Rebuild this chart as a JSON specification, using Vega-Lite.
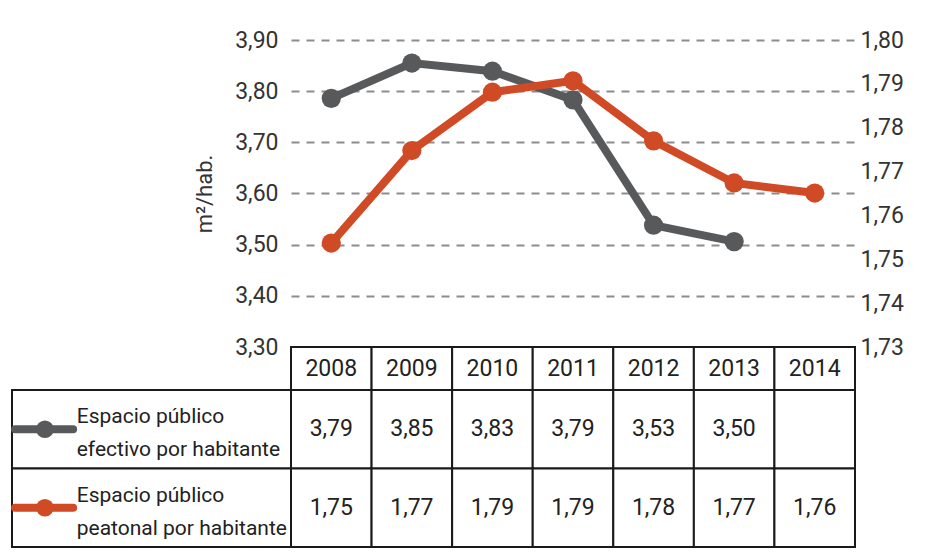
{
  "$schema": "https://vega.github.io/schema/vega-lite/v6.json",
  "padding": {"left": 11, "top": 29, "right": 0, "bottom": 0},
  "background": "white",
  "config": {
    "font": "Roboto",
    "view": {"stroke": null},
    "locale": {"number": {"decimal": ",", "thousands": ".", "grouping": [3], "currency": ["", " €"]}}
  },
  "datasets": {
    "datos": [
      {"anio": "2008", "serie": "efectivo", "valor": 3.786, "tabla": 3.79},
      {"anio": "2009", "serie": "efectivo", "valor": 3.855, "tabla": 3.85},
      {"anio": "2010", "serie": "efectivo", "valor": 3.839, "tabla": 3.83},
      {"anio": "2011", "serie": "efectivo", "valor": 3.783, "tabla": 3.79},
      {"anio": "2012", "serie": "efectivo", "valor": 3.538, "tabla": 3.53},
      {"anio": "2013", "serie": "efectivo", "valor": 3.506, "tabla": 3.50},
      {"anio": "2014", "serie": "efectivo", "valor": null, "tabla": null},
      {"anio": "2008", "serie": "peatonal", "valor": 1.7537, "tabla": 1.75},
      {"anio": "2009", "serie": "peatonal", "valor": 1.7748, "tabla": 1.77},
      {"anio": "2010", "serie": "peatonal", "valor": 1.7881, "tabla": 1.79},
      {"anio": "2011", "serie": "peatonal", "valor": 1.7907, "tabla": 1.79},
      {"anio": "2012", "serie": "peatonal", "valor": 1.7770, "tabla": 1.78},
      {"anio": "2013", "serie": "peatonal", "valor": 1.7674, "tabla": 1.77},
      {"anio": "2014", "serie": "peatonal", "valor": 1.7651, "tabla": 1.76}
    ],
    "series": [
      {"serie": "efectivo", "nombre": "Espacio público\nefectivo por habitante"},
      {"serie": "peatonal", "nombre": "Espacio público\npeatonal por habitante"}
    ]
  },
  "columns": 2,
  "spacing": 0,
  "bounds": "flush",
  "concat": [
    {
      "width": 279, "height": 307,
      "data": {"values": []},
      "mark": "point"
    },
    {
      "width": 564, "height": 307,
      "data": {"name": "datos"},
      "encoding": {
        "x": {"field": "anio", "type": "ordinal", "scale": {"type": "point", "padding": 0.5}, "axis": null}
      },
      "layer": [
        {
          "transform": [{"filter": "datum.serie == 'efectivo' && isValid(datum.valor)"}],
          "encoding": {
            "y": {
              "field": "valor", "type": "quantitative",
              "scale": {"domain": [3.3, 3.9], "nice": false, "zero": false},
              "axis": {
                "orient": "left",
                "values": [3.3, 3.4, 3.5, 3.6, 3.7, 3.8, 3.9],
                "format": ".2f",
                "title": "m²/hab.",
                "grid": true, "gridDash": [8, 7], "gridColor": "#8c8c8c", "gridWidth": 2,
                "domain": false, "ticks": false,
                "labelFontSize": 23, "labelColor": "#333333", "labelPadding": 13,
                "titleFontSize": 22, "titleFontWeight": "normal", "titleColor": "#333333", "titlePadding": 18
              }
            }
          },
          "layer": [
            {"mark": {"type": "line", "color": "#58595b", "strokeWidth": 8}},
            {"mark": {"type": "circle", "color": "#58595b", "size": 370, "opacity": 1}}
          ]
        },
        {
          "transform": [{"filter": "datum.serie == 'peatonal' && isValid(datum.valor)"}],
          "encoding": {
            "y": {
              "field": "valor", "type": "quantitative",
              "scale": {"domain": [1.73, 1.8], "nice": false, "zero": false},
              "axis": {
                "orient": "right",
                "values": [1.73, 1.74, 1.75, 1.76, 1.77, 1.78, 1.79, 1.8],
                "format": ".2f",
                "title": null,
                "grid": false, "domain": false, "ticks": false,
                "labelFontSize": 23, "labelColor": "#333333", "labelPadding": 5
              }
            }
          },
          "layer": [
            {"mark": {"type": "line", "color": "#d04a26", "strokeWidth": 8}},
            {"mark": {"type": "circle", "color": "#d04a26", "size": 370, "opacity": 1}}
          ]
        }
      ],
      "resolve": {"scale": {"y": "independent"}}
    },
    {
      "width": 279, "height": 43,
      "data": {"values": []},
      "mark": "point"
    },
    {
      "width": 564, "height": 43,
      "data": {"name": "datos"},
      "transform": [{"filter": "datum.serie == 'efectivo'"}],
      "encoding": {
        "x": {"field": "anio", "type": "ordinal", "scale": {"type": "band", "paddingInner": 0, "paddingOuter": 0}, "axis": null}
      },
      "layer": [
        {"mark": {"type": "rect", "fill": "white", "stroke": "#1a1a1a", "strokeWidth": 2}},
        {"mark": {"type": "text", "fontSize": 23, "color": "#222222"}, "encoding": {"text": {"field": "anio"}}}
      ]
    },
    {
      "width": 279, "height": 157,
      "data": {"name": "series"},
      "encoding": {
        "y": {"field": "serie", "type": "nominal", "scale": {"type": "band", "domain": ["efectivo", "peatonal"], "paddingInner": 0, "paddingOuter": 0}, "axis": null},
        "color": {"field": "serie", "type": "nominal", "scale": {"domain": ["efectivo", "peatonal"], "range": ["#58595b", "#d04a26"]}, "legend": null}
      },
      "layer": [
        {
          "mark": {"type": "rect", "fill": "white", "stroke": "#1a1a1a", "strokeWidth": 2},
          "encoding": {
            "x": {"datum": 0, "type": "quantitative", "scale": {"domain": [0, 1], "nice": false, "zero": false}, "axis": null},
            "x2": {"datum": 1},
            "color": {"value": "white"}
          }
        },
        {
          "mark": {"type": "rule", "strokeWidth": 8, "strokeCap": "round"},
          "encoding": {
            "x": {"datum": 0.011, "type": "quantitative"},
            "x2": {"datum": 0.219}
          }
        },
        {
          "mark": {"type": "circle", "size": 314, "opacity": 1},
          "encoding": {
            "x": {"datum": 0.118, "type": "quantitative"}
          }
        },
        {
          "mark": {"type": "text", "align": "left", "baseline": "middle", "fontSize": 21, "lineBreak": "\n", "lineHeight": 33, "dy": -12, "color": "#222222"},
          "encoding": {
            "x": {"datum": 0.232, "type": "quantitative"},
            "text": {"field": "nombre"},
            "color": {"value": "#222222"}
          }
        }
      ]
    },
    {
      "width": 564, "height": 157,
      "data": {"name": "datos"},
      "encoding": {
        "x": {"field": "anio", "type": "ordinal", "scale": {"type": "band", "paddingInner": 0, "paddingOuter": 0}, "axis": null},
        "y": {"field": "serie", "type": "nominal", "scale": {"type": "band", "domain": ["efectivo", "peatonal"], "paddingInner": 0, "paddingOuter": 0}, "axis": null}
      },
      "layer": [
        {"mark": {"type": "rect", "fill": "white", "stroke": "#1a1a1a", "strokeWidth": 2}},
        {
          "transform": [{"filter": "isValid(datum.tabla)"}],
          "mark": {"type": "text", "fontSize": 23, "color": "#222222"},
          "encoding": {"text": {"field": "tabla", "type": "quantitative", "format": ".2f"}}
        }
      ]
    }
  ]
}
